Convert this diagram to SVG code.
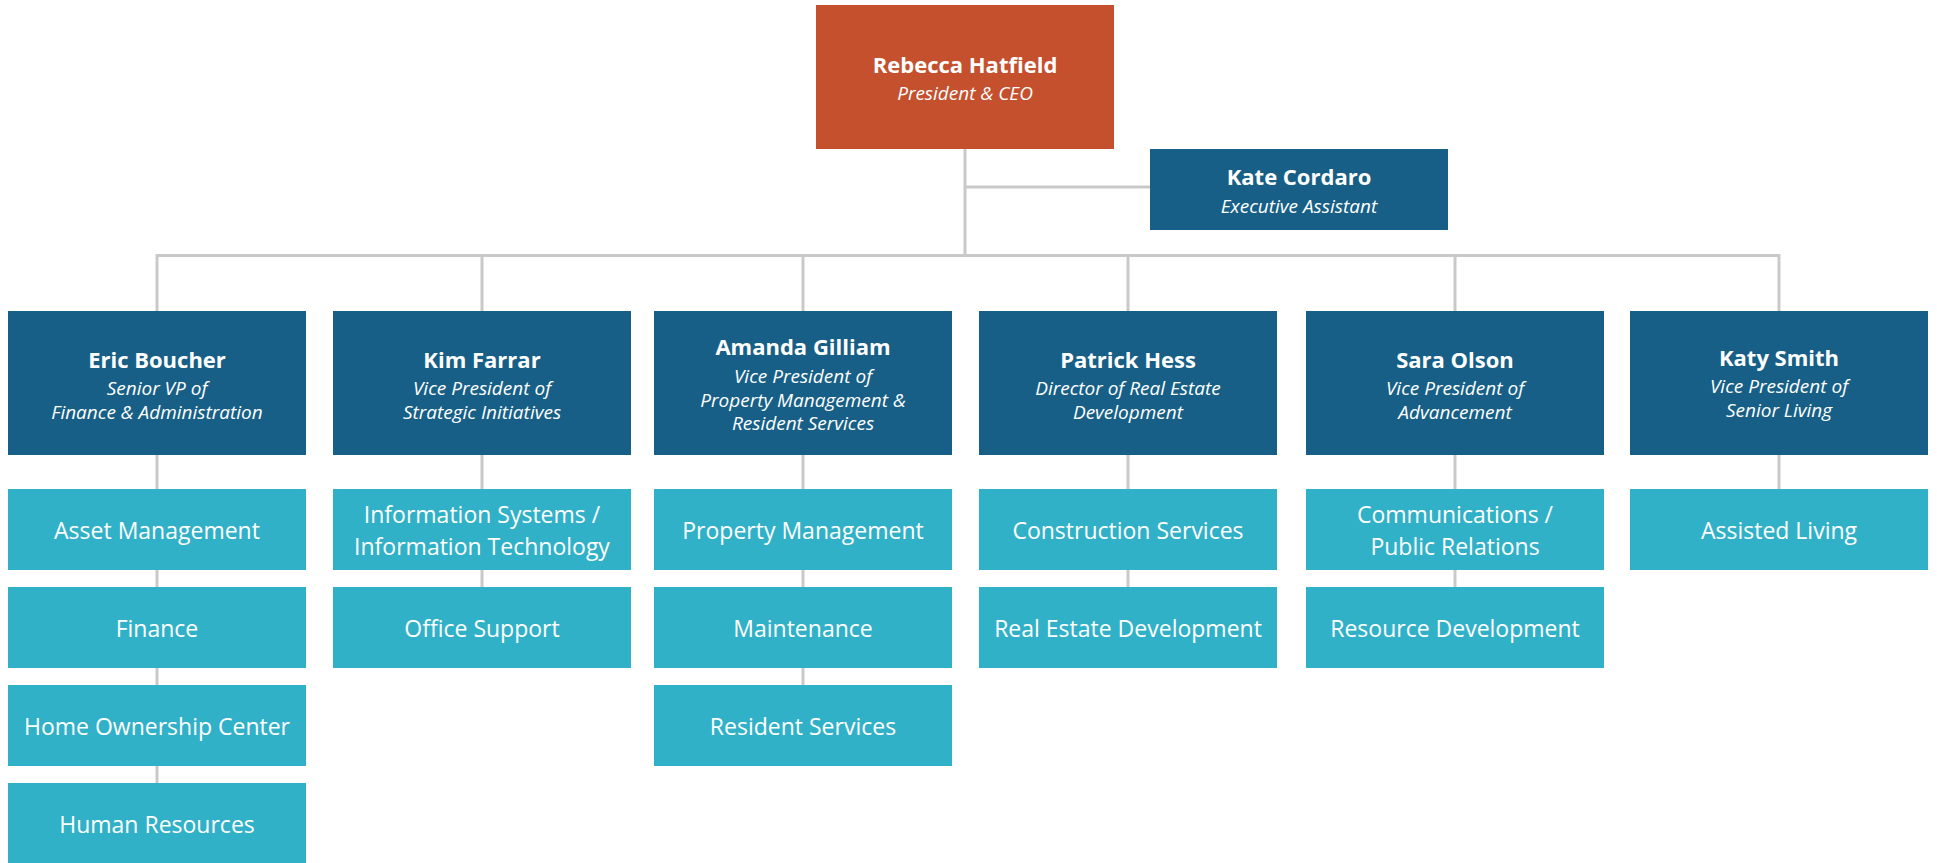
<svg xmlns="http://www.w3.org/2000/svg" width="1937" height="863" viewBox="0 0 1937 863">
  <style>
    .ceo { fill: #C4502E; }
    .lead { fill: #175F86; }
    .unit { fill: #31B1C8; }
    .link { stroke: #C9C9C9; stroke-width: 3; fill: none; }
    text { font-family: "Open Sans", "Liberation Sans", sans-serif; fill: #FFFFFF; text-anchor: middle; }
    .name { font-size: 22px; font-weight: 700; }
    .title { font-size: 19px; font-style: italic; }
    .dept { font-size: 23px; }
  </style>
  <rect width="1937" height="863" fill="#FFFFFF"/>

  <!-- connectors -->
  <g id="connectors">
    <path class="link" d="M965 148 V255.5 M965 187 H1150"/>
    <path class="link" d="M157 311 V255.5 H1779 V311"/>
    <path class="link" d="M482 255.5 V311 M803 255.5 V311 M1128 255.5 V311 M1455 255.5 V311"/>
    <path class="link" d="M157 455 V790 M482 455 V590 M803 455 V690 M1128 455 V590 M1455 455 V590 M1779 455 V490"/>
  </g>

  <!-- executive -->
  <g id="rebecca-hatfield">
    <rect class="ceo" x="816" y="5" width="298" height="144"/>
    <text class="name" x="965" y="73">Rebecca Hatfield</text>
    <text class="title" x="965" y="100">President &amp; CEO</text>
  </g>
  <g id="kate-cordaro">
    <rect class="lead" x="1150" y="149" width="298" height="81"/>
    <text class="name" x="1299" y="185">Kate Cordaro</text>
    <text class="title" x="1299" y="212.5">Executive Assistant</text>
  </g>

  <!-- direct reports -->
  <g id="eric-boucher">
    <rect class="lead" x="8" y="311" width="298" height="144"/>
    <text class="name" x="157" y="367.5">Eric Boucher</text>
    <text class="title" x="157" y="395">Senior VP of</text>
    <text class="title" x="157" y="418.5">Finance &amp; Administration</text>
  </g>
  <g id="kim-farrar">
    <rect class="lead" x="333" y="311" width="298" height="144"/>
    <text class="name" x="482" y="367.5">Kim Farrar</text>
    <text class="title" x="482" y="395">Vice President of</text>
    <text class="title" x="482" y="418.5">Strategic Initiatives</text>
  </g>
  <g id="amanda-gilliam">
    <rect class="lead" x="654" y="311" width="298" height="144"/>
    <text class="name" x="803" y="355">Amanda Gilliam</text>
    <text class="title" x="803" y="383">Vice President of</text>
    <text class="title" x="803" y="406.5">Property Management &amp;</text>
    <text class="title" x="803" y="430">Resident Services</text>
  </g>
  <g id="patrick-hess">
    <rect class="lead" x="979" y="311" width="298" height="144"/>
    <text class="name" x="1128" y="367.5">Patrick Hess</text>
    <text class="title" x="1128" y="395">Director of Real Estate</text>
    <text class="title" x="1128" y="418.5">Development</text>
  </g>
  <g id="sara-olson">
    <rect class="lead" x="1306" y="311" width="298" height="144"/>
    <text class="name" x="1455" y="367.5">Sara Olson</text>
    <text class="title" x="1455" y="395">Vice President of</text>
    <text class="title" x="1455" y="418.5">Advancement</text>
  </g>
  <g id="katy-smith">
    <rect class="lead" x="1630" y="311" width="298" height="144"/>
    <text class="name" x="1779" y="365.5">Katy Smith</text>
    <text class="title" x="1779" y="393">Vice President of</text>
    <text class="title" x="1779" y="416.5">Senior Living</text>
  </g>

  <!-- departments -->
  <g id="asset-management">
    <rect class="unit" x="8" y="489" width="298" height="81"/>
    <text class="dept" x="157" y="538.5">Asset Management</text>
  </g>
  <g id="finance">
    <rect class="unit" x="8" y="587" width="298" height="81"/>
    <text class="dept" x="157" y="636.5">Finance</text>
  </g>
  <g id="home-ownership-center">
    <rect class="unit" x="8" y="685" width="298" height="81"/>
    <text class="dept" x="157" y="734.5">Home Ownership Center</text>
  </g>
  <g id="human-resources">
    <rect class="unit" x="8" y="783" width="298" height="81"/>
    <text class="dept" x="157" y="832.5">Human Resources</text>
  </g>

  <g id="information-systems">
    <rect class="unit" x="333" y="489" width="298" height="81"/>
    <text class="dept" x="482" y="522.5">Information Systems /</text>
    <text class="dept" x="482" y="554.5">Information Technology</text>
  </g>
  <g id="office-support">
    <rect class="unit" x="333" y="587" width="298" height="81"/>
    <text class="dept" x="482" y="636.5">Office Support</text>
  </g>

  <g id="property-management">
    <rect class="unit" x="654" y="489" width="298" height="81"/>
    <text class="dept" x="803" y="538.5">Property Management</text>
  </g>
  <g id="maintenance">
    <rect class="unit" x="654" y="587" width="298" height="81"/>
    <text class="dept" x="803" y="636.5">Maintenance</text>
  </g>
  <g id="resident-services">
    <rect class="unit" x="654" y="685" width="298" height="81"/>
    <text class="dept" x="803" y="734.5">Resident Services</text>
  </g>

  <g id="construction-services">
    <rect class="unit" x="979" y="489" width="298" height="81"/>
    <text class="dept" x="1128" y="538.5">Construction Services</text>
  </g>
  <g id="real-estate-development">
    <rect class="unit" x="979" y="587" width="298" height="81"/>
    <text class="dept" x="1128" y="636.5">Real Estate Development</text>
  </g>

  <g id="communications">
    <rect class="unit" x="1306" y="489" width="298" height="81"/>
    <text class="dept" x="1455" y="522.5">Communications /</text>
    <text class="dept" x="1455" y="554.5">Public Relations</text>
  </g>
  <g id="resource-development">
    <rect class="unit" x="1306" y="587" width="298" height="81"/>
    <text class="dept" x="1455" y="636.5">Resource Development</text>
  </g>

  <g id="assisted-living">
    <rect class="unit" x="1630" y="489" width="298" height="81"/>
    <text class="dept" x="1779" y="538.5">Assisted Living</text>
  </g>
</svg>
